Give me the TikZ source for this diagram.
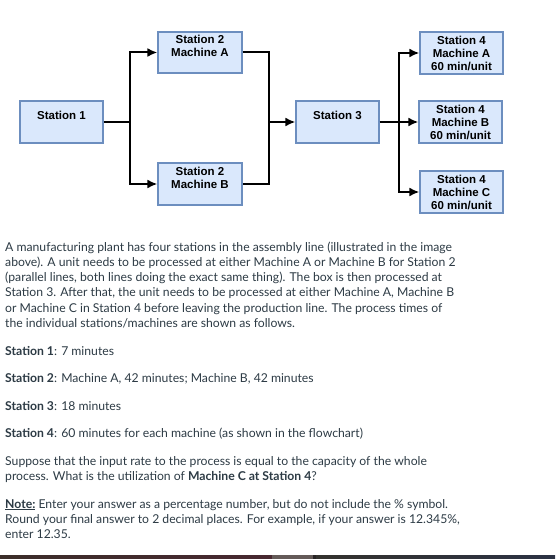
\documentclass[tikz,border=0pt]{standalone}
\usepackage{fontspec}
\setmainfont{Lato}
\newfontfamily\boxfont{Liberation Sans}
\usetikzlibrary{arrows.meta}
\definecolor{boxfill}{RGB}{218,232,252}
\definecolor{boxline}{RGB}{108,142,191}
\definecolor{txt}{RGB}{45,59,69}
\definecolor{edgeA}{RGB}{60,46,42}
\definecolor{edgeB}{RGB}{72,40,48}
\definecolor{edgeC}{RGB}{100,90,88}
\definecolor{edgeD}{RGB}{40,36,38}
\definecolor{edgeE}{RGB}{52,50,46}
\definecolor{edgeF}{RGB}{44,50,68}
\tikzset{
	stationbox/.style={draw=boxline, fill=boxfill, line width=1.2pt, minimum width=83pt, minimum height=42pt, inner sep=0pt, align=center, font=\boxfont\bfseries\fontsize{11.5}{13}\selectfont},
	flow/.style={line width=2pt},
	flowarrow/.style={flow, -{Latex[length=10pt,width=9pt]}},
	textline/.style={anchor=base west, inner sep=0pt, text=txt, font=\fontsize{12.2}{15}\selectfont}
}
\begin{document}
\begin{tikzpicture}[x=1pt,y=-1pt]
			\useasboundingbox (0,0) rectangle (555,559);
			\fill[white] (0,0) rectangle (555,559);
			
			% stations
			\node[stationbox] (s1) at (61.5,122) {Station 1\\\phantom{X}};
			\node[stationbox, minimum width=84pt, minimum height=41pt] (s2a) at (200,52.5) {Station 2\\Machine A\\\phantom{X}};
			\node[stationbox, minimum width=84pt] (s2b) at (200,184) {Station 2\\Machine B\\\phantom{X}};
			\node[stationbox] (s3) at (337.5,122) {Station 3\\\phantom{X}};
			\node[stationbox] (s4a) at (461.5,53) {Station 4\\Machine A\\60 min/unit};
			\node[stationbox] (s4b) at (460.5,122) {Station 4\\Machine B\\60 min/unit};
			\node[stationbox] (s4c) at (461.5,192) {Station 4\\Machine C\\60 min/unit};
			
			\coordinate (split1) at (130,122);
			\coordinate (merge2) at (269,122);
			\coordinate (split3) at (399,122);
			
			% connectors
			\draw[flow] (s1.east) -- (split1);
			\draw[flowarrow] (split1) |- (s2a.west);
			\draw[flowarrow] (split1) |- (s2b.west);
			\draw[flow] (s2a.east) -| (merge2) |- (s2b.east);
			\draw[flowarrow] (merge2) -- (s3.west);
			\draw[flow] (s3.east) -- (split3);
			\draw[flowarrow] (split3) |- (s4a.west);
			\draw[flowarrow] (split3) -- (s4b.west);
			\draw[flowarrow] (split3) |- (s4c.west);
			
			% question text
			\foreach \y/\txt in {
				251/{A manufacturing plant has four stations in the assembly line (illustrated in the image},
				266.3/{above). A unit needs to be processed at either Machine A or Machine B for Station 2},
				281.6/{(parallel lines, both lines doing the exact same thing). The box is then processed at},
				296.9/{Station 3. After that, the unit needs to be processed at either Machine A, Machine B},
				312.2/{or Machine C in Station 4 before leaving the production line. The process times of},
				327.5/{the individual stations/machines are shown as follows.},
				355/{\textbf{Station 1}: 7 minutes},
				382.5/{\textbf{Station 2}: Machine A, 42 minutes; Machine B, 42 minutes},
				410/{\textbf{Station 3}: 18 minutes},
				437.5/{\textbf{Station 4}: 60 minutes for each machine (as shown in the flowchart)},
				465/{Suppose that the input rate to the process is equal to the capacity of the whole},
				480.3/{process. What is the utilization of \textbf{Machine C at Station 4}?},
				508/{\underline{\textbf{Note:}} Enter your answer as a percentage number, but do not include the \% symbol.},
				523.3/{Round your final answer to 2 decimal places. For example, if your answer is 12.345\%,},
				538.6/{enter 12.35.}}{
				\node[textline] at (5,\y) {\txt};
			}
			
			% screen edge
			\fill[left color=edgeA, right color=edgeB] (0,555) rectangle (272,559);
			\fill[edgeC] (272,555) rectangle (313,559);
			\fill[edgeD] (313,555) rectangle (316,559);
			\fill[left color=edgeE, right color=edgeF] (316,555) rectangle (555,559);
		\end{tikzpicture}
\end{document}
